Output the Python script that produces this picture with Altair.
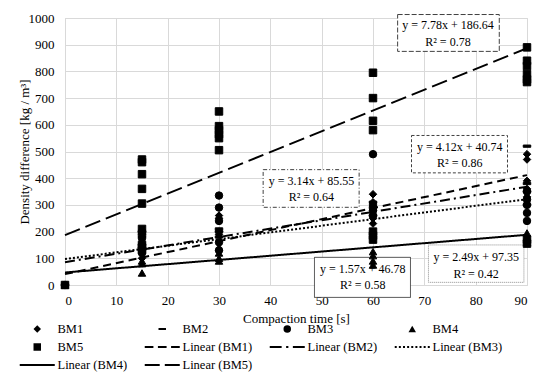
import altair as alt
import pandas as pd

FONT = "Liberation Serif"
GRID = "#d9d9d9"

# ---- data ----
times = [0, 15, 30, 60, 90]
series = ["BM1", "BM2", "BM3", "BM4", "BM5"]

bm1_vals = [[0], [100, 120, 150, 180, 190], [190, 200, 250, 260], [340, 310, 280, 250, 230], [490, 470, 390, 360, 330]]
bm2_vals = [[0], [130, 140, 150], [180, 200, 210], [260, 290, 310], [520, 380, 350, 300]]
bm3_vals = [[0], [120, 150, 175, 200], [335, 290, 240, 160, 130], [490, 300, 280, 260], [350, 320, 300, 270, 240]]
bm4_vals = [[0], [45, 80, 90], [90, 100, 120, 140], [75, 90, 110, 125], [160, 180, 195]]
bm5_vals = [[0], [470, 460, 415, 360, 305, 210, 190, 150, 130], [650, 595, 580, 565, 550, 505],
            [795, 700, 615, 580, 200, 185, 170], [890, 840, 820, 790, 770, 760, 170, 155]]

slopes = [4.12, 3.14, 2.49, 1.57, 7.78]
intercepts = [40.74, 85.55, 97.35, 46.78, 186.64]
r2_vals = [0.86, 0.64, 0.42, 0.58, 0.78]
line_names = ["Linear (BM1)", "Linear (BM2)", "Linear (BM3)", "Linear (BM4)", "Linear (BM5)"]
line_range = [0, 90]

# annotation boxes (data units)
box_x0 = [67.5, 38.6, 70.8, 48.6, 64.8]
box_x1 = [86.2, 57.3, 89.4, 67.3, 84.6]
box_y0 = [420, 291, 10, -46.5, 875]
box_y1 = [560, 432, 150, 103.5, 1013]
lab_x = [76.9, 48.0, 80.1, 58.0, 74.6]
lab_y1 = [518, 388, 103, 60, 972]
lab_y2 = [456, 328, 43, 0, 910]
box_dash = [[3, 2], [4, 2, 1, 2], [1, 1], [1, 0], [5, 2]]
box_color = ["#404040", "#404040", "#8c8c8c", "#303030", "#404040"]

# ---- styles ----
line_dashes = [[8, 5], [10, 4, 2, 4], [2, 2], [1, 0], [16, 6]]
# legend glyphs for the trend lines: filled segments (units of the symbol's half-size)
legend_segments = [
    [(-4.68, -2.36), (-1.16, 1.16), (2.36, 4.68)],
    [(-4.68, -1.5), (-0.3, 0.3), (1.5, 4.68)],
    [(-4.68 + k * 1.104, -4.68 + k * 1.104 + 0.53) for k in range(9)],
    [(-4.68, 4.68)],
    [(-4.68, -0.68), (0.68, 4.68)],
]


def seg_path(segs, h=0.27):
    return "".join(f"M{a:.3f},{-h}H{b:.3f}V{h}H{a:.3f}Z" for a, b in segs)


legend_domain = series + line_names
shape_range = ["diamond", "M-1,-0.3H1V0.3H-1Z", "circle", "triangle-up", "square"] + [seg_path(s) for s in legend_segments]

# ---- tables ----
rows = []
for name, vals in zip(series, [bm1_vals, bm2_vals, bm3_vals, bm4_vals, bm5_vals]):
    for t, vs in zip(times, vals):
        for v in vs:
            rows.append({"t": t, "v": v, "series": name})
points_df = pd.DataFrame(rows)

lrows = []
for name, s, b in zip(line_names, slopes, intercepts):
    for t in line_range:
        lrows.append({"t": t, "v": s * t + b, "series": name})
lines_df = pd.DataFrame(lrows)

text_rows = []
for i in range(5):
    text_rows.append({"t": lab_x[i], "v": lab_y1[i], "label": f"y = {slopes[i]:.2f}x + {intercepts[i]:.2f}"})
    text_rows.append({"t": lab_x[i], "v": lab_y2[i], "label": f"R\u00b2 = {r2_vals[i]:.2f}"})
text_df = pd.DataFrame(text_rows)

xscale = alt.Scale(domain=[0, 90], nice=False)
yscale = alt.Scale(domain=[0, 1000], nice=False)
xaxis = alt.Axis(values=list(range(0, 91, 10)), title="Compaction time [s]", grid=True, ticks=False,
                 labelPadding=9, titlePadding=5, format="d")
yaxis = alt.Axis(values=list(range(0, 1001, 100)), title="Density difference [kg / m\u00b3]", grid=True, ticks=False,
                 labelPadding=11, titlePadding=-3, format="d")

leg = alt.Legend(
    title=None, orient="none", legendX=-50, legendY=302, columns=4, direction="horizontal",
    clipHeight=18, rowPadding=0, columnPadding=12, padding=0,
    labelFont=FONT, labelFontSize=12.5, labelColor="black", labelOffset=14, symbolOffset=16,
    symbolSize=56, symbolFillColor="black", symbolOpacity=1, symbolStrokeWidth=0,
)

X = alt.X("t:Q", scale=xscale, axis=xaxis)
Y = alt.Y("v:Q", scale=yscale, axis=yaxis)

boxes = []
for i in range(5):
    bdf = pd.DataFrame([{"bx0": box_x0[i], "bx1": box_x1[i], "by0": box_y0[i], "by1": box_y1[i]}])
    boxes.append(
        alt.Chart(bdf).mark_rect(fill="white", stroke=box_color[i], strokeWidth=1, strokeDash=box_dash[i])
        .encode(x=alt.X("bx0:Q", scale=xscale, axis=xaxis), x2="bx1:Q",
                y=alt.Y("by0:Q", scale=yscale, axis=yaxis), y2="by1:Q")
    )

lines = alt.Chart(lines_df).mark_line(color="black", strokeWidth=2).encode(
    x=X, y=Y,
    strokeDash=alt.StrokeDash("series:N", scale=alt.Scale(domain=line_names, range=line_dashes), legend=None),
    detail="series:N",
)

points = alt.Chart(points_df).mark_point(filled=True, fill="black", stroke="black", strokeWidth=1,
                                         opacity=1, size=56).encode(
    x=X, y=Y,
    shape=alt.Shape("series:N", scale=alt.Scale(domain=legend_domain, range=shape_range), legend=leg),
)

texts = alt.Chart(text_df).mark_text(font=FONT, fontSize=12, color="black", baseline="middle", align="center").encode(
    x=X, y=Y, text="label:N"
)

chart = (
    alt.layer(*boxes, lines, points, texts)
    .properties(width=462, height=267, padding={"left": 7, "top": 4, "right": 5, "bottom": 2})
    .configure(background="white", font=FONT)
    .configure_view(stroke=GRID)
    .configure_axis(labelFont=FONT, labelFontSize=13, labelColor="black", titleFont=FONT, titleFontSize=13,
                    titleFontWeight="normal", titleColor="black", domainColor=GRID, gridColor=GRID)
    .configure_text(font=FONT)
    .configure_legend(labelFont=FONT)
)

chart.save("out.html", embed_options={"renderer": "svg", "actions": False})
